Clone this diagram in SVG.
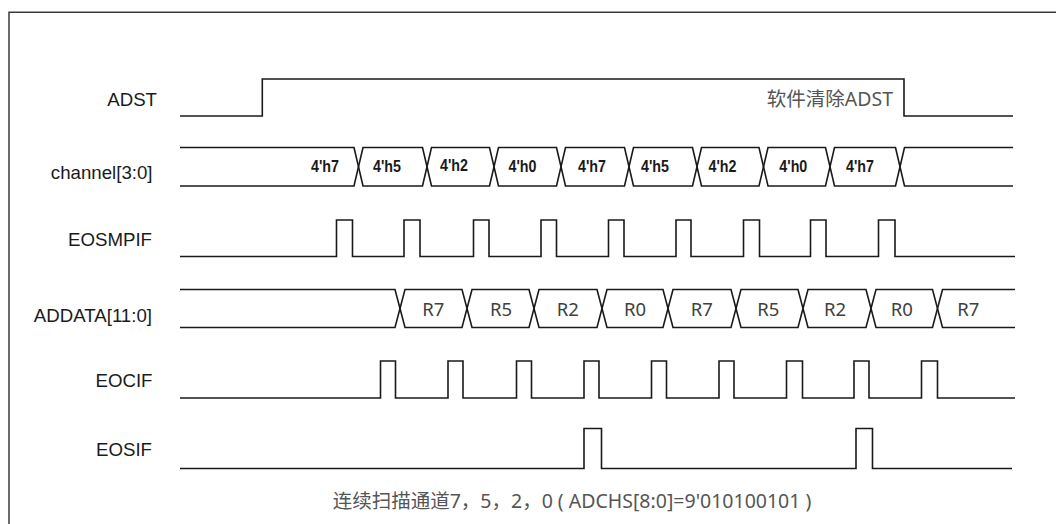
<svg xmlns="http://www.w3.org/2000/svg" width="1056" height="524" viewBox="0 0 1056 524">
  <style>
    .frame { fill: none; stroke: #3a3a3a; stroke-width: 1.5; }
    .wave { fill: none; stroke: #1a1a1a; stroke-width: 1.6; stroke-linejoin: miter; }
    .lbl { font-family: "Liberation Sans", Arial, sans-serif; font-size: 18.67px; fill: #1a1a1a; text-anchor: end; }
    .val { font-family: "Liberation Sans", Arial, sans-serif; font-size: 17px; font-weight: bold; fill: #1a1a1a; text-anchor: middle; }
    .dat { font-family: "Noto Sans", "Noto Sans CJK SC", sans-serif; font-size: 18.5px; fill: #404040; text-anchor: middle; }
    .note { font-family: "Noto Sans", "Noto Sans CJK SC", sans-serif; font-size: 19.5px; fill: #555555; }
  </style>
  <rect width="1056" height="524" fill="#ffffff"/>
  <path class="frame" d="M9,524 V12.3 H1056"/>

  <g id="ADST">
    <text class="lbl" x="157" y="106">ADST</text>
    <path class="wave" d="M180,116 H262.3 V79 H904 V116 H1013"/>
    <text class="note" x="893" y="106" text-anchor="end">软件清除ADST</text>
  </g>

  <g id="channel">
    <text class="lbl" x="152.5" y="178.5">channel[3:0]</text>
    <path class="wave" d="M180,147.5 H354 L363,186 H422.5 L431.5,147.5 H489.5 L498.5,186 H556.5 L565.5,147.5 H624.5 L633.5,186 H692.5 L701.5,147.5 H759 L768,186 H825.5 L834.5,147.5 H895.5 L904.5,186 H1013"/>
    <path class="wave" d="M180,186 H354 L363,147.5 H422.5 L431.5,186 H489.5 L498.5,147.5 H556.5 L565.5,186 H624.5 L633.5,147.5 H692.5 L701.5,186 H759 L768,147.5 H825.5 L834.5,186 H895.5 L904.5,147.5 H1013"/>
    <text class="val" x="325" y="172" textLength="28" lengthAdjust="spacingAndGlyphs">4'h7</text>
    <text class="val" x="387" y="172" textLength="28" lengthAdjust="spacingAndGlyphs">4'h5</text>
    <text class="val" x="454" y="170.5" textLength="28" lengthAdjust="spacingAndGlyphs">4'h2</text>
    <text class="val" x="522.5" y="172" textLength="28" lengthAdjust="spacingAndGlyphs">4'h0</text>
    <text class="val" x="592" y="172" textLength="28" lengthAdjust="spacingAndGlyphs">4'h7</text>
    <text class="val" x="655" y="172" textLength="28" lengthAdjust="spacingAndGlyphs">4'h5</text>
    <text class="val" x="722.5" y="172" textLength="28" lengthAdjust="spacingAndGlyphs">4'h2</text>
    <text class="val" x="793.3" y="172" textLength="28" lengthAdjust="spacingAndGlyphs">4'h0</text>
    <text class="val" x="860" y="172" textLength="28" lengthAdjust="spacingAndGlyphs">4'h7</text>
  </g>

  <g id="EOSMPIF">
    <text class="lbl" x="152" y="246">EOSMPIF</text>
    <path class="wave" d="M180,256.5 H336.5 V220 H352.5 V256.5 H404 V220 H420 V256.5 H473.5 V220 H489 V256.5 H541 V220 H556.5 V256.5 H608.5 V220 H624 V256.5 H676 V220 H691 V256.5 H743.5 V220 H759.5 V256.5 H810.5 V220 H826 V256.5 H878.5 V220 H895 V256.5 H1015"/>
  </g>

  <g id="ADDATA">
    <text class="lbl" x="152" y="321.5">ADDATA[11:0]</text>
    <path class="wave" d="M180,289.5 H395 L405,327.5 H462 L472,289.5 H529 L539,327.5 H597 L607,289.5 H663 L673,327.5 H731 L741,289.5 H798 L808,327.5 H866 L876,289.5 H932.5 L942.5,327.5 H1015"/>
    <path class="wave" d="M180,327.5 H395 L405,289.5 H462 L472,327.5 H529 L539,289.5 H597 L607,327.5 H663 L673,289.5 H731 L741,327.5 H798 L808,289.5 H866 L876,327.5 H932.5 L942.5,289.5 H1015"/>
    <text class="dat" x="433.3" y="315.5">R7</text>
    <text class="dat" x="501" y="315.5">R5</text>
    <text class="dat" x="567.7" y="315.5">R2</text>
    <text class="dat" x="635" y="315.5">R0</text>
    <text class="dat" x="701.7" y="315.5">R7</text>
    <text class="dat" x="768.3" y="315.5">R5</text>
    <text class="dat" x="835" y="315.5">R2</text>
    <text class="dat" x="901.7" y="315.5">R0</text>
    <text class="dat" x="968.3" y="315.5">R7</text>
  </g>

  <g id="EOCIF">
    <text class="lbl" x="152.5" y="386.7">EOCIF</text>
    <path class="wave" d="M180,398 H380.5 V361 H395.5 V398 H448 V361 H463 V398 H516.5 V361 H531.5 V398 H584 V361 H599 V398 H651.5 V361 H666.5 V398 H719 V361 H734 V398 H786.5 V361 H802.5 V398 H854 V361 H869 V398 H921.5 V361 H937.5 V398 H1015"/>
  </g>

  <g id="EOSIF">
    <text class="lbl" x="152" y="456">EOSIF</text>
    <path class="wave" d="M180,468.5 H584 V428.5 H601.5 V468.5 H856 V428.5 H872.5 V468.5 H1012"/>
  </g>

  <g id="caption">
    <text class="note" x="572" y="508" text-anchor="middle">连续扫描通道7，5，2，0 ( ADCHS[8:0]=9'010100101 )</text>
  </g>

  <g id="connectors"/>
</svg>
